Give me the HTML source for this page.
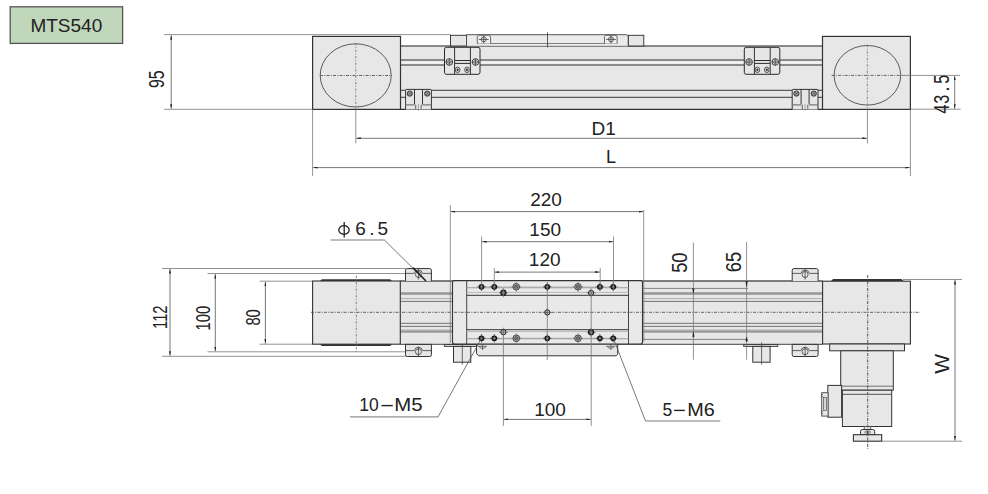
<!DOCTYPE html>
<html><head><meta charset="utf-8">
<style>
html,body{margin:0;padding:0;background:#fff;width:988px;height:494px;overflow:hidden}
svg{display:block}
text{font-family:"Liberation Sans",sans-serif;fill:#222}
.f{fill:#e7e7e7}
.k{stroke:#333;fill:none}
.dim{stroke:#555;stroke-width:0.8;fill:none}
.ext{stroke:#777;stroke-width:0.8;fill:none}
.cl{stroke:#555;stroke-width:0.9;stroke-dasharray:3 1.25 1 1.25;fill:none}
.clv{stroke:#777;stroke-width:0.9;stroke-dasharray:2.5 1.5 1 1.5;fill:none}
</style></head>
<body>
<svg width="988" height="494" viewBox="0 0 988 494">
<defs>
  <marker id="ar" viewBox="0 0 4.5 2" refX="4.5" refY="1" markerWidth="4.5" markerHeight="2" markerUnits="userSpaceOnUse" orient="auto-start-reverse">
    <path d="M0,0 L4.5,1 L0,2 Z" fill="#222"/>
  </marker>
  <g id="scr">
    <circle r="3.3" fill="#e2e2e2" stroke="#333" stroke-width="0.9"/>
    <circle r="1.9" fill="none" stroke="#777" stroke-width="0.6"/>
    <path d="M-3.6,0H3.6M0,-3.6V3.6" stroke="#333" stroke-width="0.7"/>
  </g>
  <g id="scrs">
    <ellipse rx="2.3" ry="2.8" fill="#dcdcdc" stroke="#333" stroke-width="0.8"/>
    <ellipse rx="1" ry="1.4" fill="#333"/>
  </g>
</defs>

<!-- label box -->
<rect x="10.2" y="6.8" width="112.4" height="36.6" fill="#c0d7bc" stroke="#555" stroke-width="1.3"/>
<text x="66.3" y="32.4" font-size="19" text-anchor="middle">MTS540</text>

<!-- ============ TOP VIEW ============ -->
<!-- 95 dim -->
<path class="ext" d="M164,34.6H450.5M164,109.3H313"/>
<path class="dim" d="M171.2,35.2V108.7" marker-start="url(#ar)" marker-end="url(#ar)"/>
<text transform="translate(164.4,79.2) rotate(-90) scale(0.72,1)" font-size="22" text-anchor="middle">95</text>

<!-- body -->
<rect x="400.5" y="46" width="422" height="63.4" class="f"/>
<path d="M400.5,46H822.5" stroke="#222" stroke-width="1.1"/>
<path d="M400.5,60H822.5M400.5,65H822.5" stroke="#6e6e6e" stroke-width="1.5"/>
<path d="M400.5,62.4H822.5" stroke="#f2f2f2" stroke-width="2"/>
<path d="M400.5,90.3H822.5M400.5,97.3H822.5" stroke="#3a3a3a" stroke-width="1"/>
<path d="M312.6,109.4H910.4" stroke="#333" stroke-width="1.1"/>
<path class="ext" d="M910.4,109.2H960.7"/>

<!-- carriage top -->
<rect x="450.5" y="35.3" width="16" height="10.7" class="f" stroke="#333" stroke-width="0.95"/>
<rect x="628.5" y="35.3" width="15.3" height="10.7" class="f" stroke="#333" stroke-width="0.95"/>
<path d="M466.5,45.8V34.7H626.2Q628.2,34.7 628.2,36.7V45.8" fill="#ebebeb" stroke="#444" stroke-width="0.9"/>
<path d="M477,43.5H617.1" stroke="#666" stroke-width="0.8"/>
<path d="M477.3,43.5V36.4L478.4,35.3H488.6Q490.6,35.3 490.6,37.3V43.5" fill="#f0f0f0" stroke="#444" stroke-width="0.8"/>
<path d="M604.5,43.5V36.4L605.6,35.3H615.1Q617.1,35.3 617.1,37.3V43.5" fill="#f0f0f0" stroke="#444" stroke-width="0.8"/>
<g stroke="#333" stroke-width="0.75" fill="none">
  <circle cx="483.7" cy="39.4" r="2.5"/><path d="M478.8,39.4H488.6M483.7,35.7V43.4"/>
  <circle cx="611" cy="39.4" r="2.5"/><path d="M606.1,39.4H615.9M611,35.7V43.4"/>
</g>
<path d="M547.5,32.3V47.4" stroke="#333" stroke-width="0.8"/>

<!-- end blocks -->
<rect x="312.6" y="36.4" width="87.9" height="73" class="f" stroke="#333" stroke-width="1.2"/>
<rect x="822.5" y="36.4" width="87.9" height="73" class="f" stroke="#333" stroke-width="1.2"/>
<ellipse cx="355.7" cy="75.4" rx="35.5" ry="31.6" fill="none" stroke="#4a4a4a" stroke-width="0.9"/>
<ellipse cx="867.4" cy="75.3" rx="33.3" ry="29.8" fill="none" stroke="#4a4a4a" stroke-width="0.9"/>
<path class="cl" d="M320,75.5H392"/>
<path class="clv" d="M355.8,43V109"/>
<path class="cl" d="M831.6,75.4H900"/>
<path class="ext" d="M900,75.4H960"/>
<path class="clv" d="M867.4,44.7V109"/>

<!-- upper brackets -->
<g id="ubr">
  <rect x="444.5" y="47.3" width="35.5" height="27" rx="2" fill="#e6e6e6" stroke="#2a2a2a" stroke-width="1"/>
  <path d="M454.6,47.3V74.3M470.4,47.3V74.3" stroke="#2a2a2a" stroke-width="0.95"/>
  <path d="M454.6,60.5H470.4M454.6,63.4H470.4" stroke="#2a2a2a" stroke-width="1"/>
  <use href="#scr" x="449.3" y="62"/>
  <use href="#scr" x="475.5" y="62"/>
  <use href="#scrs" x="457.6" y="69.8"/>
  <use href="#scrs" x="467" y="69.8"/>
</g>
<use href="#ubr" x="299.8" y="0"/>

<!-- lower brackets -->
<g id="lbr">
  <path d="M405.6,109.4V90.4Q405.6,89.4 406.6,89.4H430.4Q431.4,89.4 431.4,90.4V109.4" fill="#e6e6e6" stroke="#2a2a2a" stroke-width="0.95"/>
  <path d="M414.5,89.4V104.4M422.5,89.4V104.4" stroke="#2a2a2a" stroke-width="0.95"/>
  <path d="M405.6,104.8H414.5M422.5,104.8H431.4" stroke="#7a7a7a" stroke-width="1.3"/>
  <path d="M415.7,104.7V109.3M421.2,104.7V109.3" stroke="#444" stroke-width="0.8"/>
  <path d="M418.4,104V110.8" stroke="#777" stroke-width="0.6"/>
  <g id="scr2"><circle cx="409.8" cy="93.6" r="2.7" fill="#6a6a6a" stroke="#2a2a2a" stroke-width="0.7"/>
  <path d="M408,93.6H411.6M409.8,91.8V95.4" stroke="#d0d0d0" stroke-width="0.7"/><circle cx="409.8" cy="93.6" r="0.7" fill="#333"/></g>
  <use href="#scr2" x="17.4" y="0"/>
</g>
<use href="#lbr" x="386.6" y="0"/>

<!-- D1 / L dims -->
<path class="ext" d="M312.6,109.4V176M355.8,109.4V143.4M867.4,109.4V143.4M910.4,109.4V176"/>
<path class="dim" d="M356.3,138.3H866.9" marker-start="url(#ar)" marker-end="url(#ar)"/>
<path class="dim" d="M313.1,167.6H909.9" marker-start="url(#ar)" marker-end="url(#ar)"/>
<text x="603.7" y="134.8" font-size="19" text-anchor="middle">D1</text>
<text x="611" y="162.8" font-size="18" text-anchor="middle">L</text>

<!-- 43.5 dim -->
<path class="dim" d="M954.7,75.9V108.8" marker-start="url(#ar)" marker-end="url(#ar)"/>
<g font-size="21.8"><text transform="translate(949.3,113.6) rotate(-90) scale(0.74,1)">4</text><text transform="translate(949.3,103.8) rotate(-90) scale(0.74,1)">3</text><text transform="translate(949.3,91.8) rotate(-90) scale(0.9,1)">.</text><text transform="translate(949.3,83.8) rotate(-90) scale(0.74,1)">5</text></g>

<!-- ============ BOTTOM VIEW ============ -->
<!-- left dims -->
<path class="ext" d="M162,268.5H405.6M207.5,273.5H405.6M259.6,281.2H312.6M259.6,344.2H312.6M207.5,351.8H405.6M162,356.3H405.6"/>
<path class="dim" d="M170,269.1V355.7" marker-start="url(#ar)" marker-end="url(#ar)"/>
<path class="dim" d="M215.3,274.1V351.2" marker-start="url(#ar)" marker-end="url(#ar)"/>
<path class="dim" d="M265.4,281.8V343.6" marker-start="url(#ar)" marker-end="url(#ar)"/>
<text transform="translate(167.1,317.2) rotate(-90) scale(0.72,1)" font-size="20.5" text-anchor="middle">112</text>
<text transform="translate(210.1,318.2) rotate(-90) scale(0.72,1)" font-size="20.5" text-anchor="middle">100</text>
<text transform="translate(259.6,317.4) rotate(-90) scale(0.72,1)" font-size="20.5" text-anchor="middle">80</text>

<!-- rails -->
<rect x="400.3" y="281" width="422.3" height="63.3" class="f"/>
<g id="rl">
<path d="M400.3,293.45H822.6" stroke="#969696" stroke-width="2.6"/>
<path d="M400.3,330.2H822.6" stroke="#b0b0b0" stroke-width="1.4"/>
<path d="M400.3,331.9H822.6" stroke="#7a7a7a" stroke-width="1.4"/>
<path d="M400.3,298.6H822.6" stroke="#a8a8a8" stroke-width="0.9"/>
<path d="M400.3,301.4H822.6M400.3,323.3H822.6M400.3,326.4H822.6" stroke="#666" stroke-width="0.9"/>
</g>
<path d="M643,288.4H748M643,339.4H748" stroke="#777" stroke-width="0.9"/>
<path d="M400.3,281H822.6" stroke="#555" stroke-width="1.6"/>
<path d="M400.3,344.3H822.6" stroke="#444" stroke-width="1"/>

<!-- left motor block -->
<path d="M319.5,281.5L321.8,279.2H390.2L392.5,281.5ZM319.5,343.8L321.8,346.1H390.2L392.5,343.8Z" fill="#333"/>
<rect x="312.6" y="281" width="87.7" height="63.2" class="f" stroke="#333" stroke-width="1.1"/>

<!-- right motor block -->
<path d="M830.8,281.3L833.1,279H901.5L903.8,281.3Z" fill="#333"/>
<rect x="822.6" y="281.2" width="87.8" height="62.8" class="f" stroke="#333" stroke-width="1.1"/>
<rect x="829.7" y="344" width="74.8" height="6.8" class="f" stroke="#333" stroke-width="1"/>
<rect x="840.7" y="350.8" width="52.6" height="39.4" class="f" stroke="#333" stroke-width="1"/>
<path d="M840.7,386.2H893.3" stroke="#555" stroke-width="0.8"/>
<rect x="842.4" y="390.2" width="49.3" height="36.3" class="f" stroke="#333" stroke-width="1"/>
<path d="M842.4,394.3H891.7" stroke="#444" stroke-width="0.9"/>
<rect x="827.8" y="385.4" width="13.8" height="31.8" class="f" stroke="#333" stroke-width="1"/>
<rect x="821.7" y="392.7" width="6.4" height="23.4" class="f" stroke="#444" stroke-width="0.9"/>
<rect x="823.4" y="397.5" width="3" height="13" fill="#d8d8d8" stroke="#555" stroke-width="0.7"/>
<path d="M821.2,394.5H823M821.2,396.5H823M821.2,411.5H823M821.2,413.5H823" stroke="#555" stroke-width="0.7"/>
<rect x="864.2" y="426.5" width="6.5" height="3" class="f" stroke="#444" stroke-width="0.8"/>
<path d="M860.5,434.7V431.5Q860.5,429.5 862.5,429.5H872.7Q874.7,429.5 874.7,431.5V434.7Z" class="f" stroke="#333" stroke-width="1"/>
<rect x="853.4" y="434.7" width="28.3" height="6.5" class="f" stroke="#333" stroke-width="1.1"/>
<ellipse cx="867.6" cy="432.1" rx="3" ry="1.3" fill="none" stroke="#555" stroke-width="0.7"/>
<circle cx="867.6" cy="432.1" r="1" fill="#333"/>

<!-- foot brackets -->
<g id="ft">
<path d="M405.5,281V270.3Q405.5,268.6 407.2,268.6H429.7Q431.4,268.6 431.4,270.3V281" fill="#e6e6e6" stroke="#333" stroke-width="1"/>
<path d="M405.5,344.4V354.8Q405.5,356.5 407.2,356.5H429.7Q431.4,356.5 431.4,354.8V344.4Z" fill="#e6e6e6" stroke="#333" stroke-width="1"/>
<g stroke="#333" stroke-width="0.75" fill="none">
<path d="M405.5,273.4H414.2A4.3,4.3 0 0 1 422.6,273.4H431.4"/>
<circle cx="418.4" cy="274.5" r="3"/>
<path d="M418.4,269.5V279.5"/>
<path d="M405.5,350.6H414.2A4.3,4.3 0 0 1 422.6,350.6H431.4"/>
<circle cx="418.4" cy="351.7" r="3"/>
<path d="M418.4,346.8V356.8"/>
</g>
</g>
<use href="#ft" x="386.7" y="0"/>

<!-- small feet under rail -->
<g id="sf">
<rect x="444.4" y="344.6" width="34.1" height="1.8" class="f" stroke="#333" stroke-width="0.9"/>
<rect x="453.5" y="346.4" width="17.3" height="15.8" class="f" stroke="#333" stroke-width="1"/>
<path d="M462.3,342.5V364.7" stroke="#444" stroke-width="0.8"/>
</g>
<use href="#sf" x="299.3" y="0"/>

<!-- carriage bottom plate -->
<path d="M476.5,344V353.5L478.5,355.8H616.2L617.7,354.3V344Z" class="f" stroke="#333" stroke-width="1"/>
<g stroke="#444" stroke-width="0.7" fill="none"><path d="M478,346.3H487M606.3,346.3H615.3M482.5,344V350M610.8,344V350"/><path d="M479.3,346.3A3.2,2 0 0 0 485.7,346.3M607.6,346.3A3.2,2 0 0 0 614,346.3"/></g>
<!-- carriage -->
<path d="M454.5,280.6H640.5Q642.5,280.6 642.5,282.6V342Q642.5,344 640.5,344H454.5Q452.5,344 452.5,342V282.6Q452.5,280.6 454.5,280.6Z" fill="#e9e9e9" stroke="#333" stroke-width="1.1"/>
<path d="M466.7,280.5V344M628.5,280.5V344" stroke="#333" stroke-width="0.9"/>
<path d="M466.7,295.3H628.5M466.7,329.7H628.5" stroke="#333" stroke-width="1"/>
<path d="M643.8,282V341.5" stroke="#888" stroke-width="1"/>
<path d="M481.5,286.8H613.3M481.5,338.2H613.3" stroke="#aaa" stroke-width="0.6"/>

<!-- holes -->
<defs>
<g id="h1"><path d="M-4.3,0H4.3M0,-4.3V4.3" stroke="#444" stroke-width="0.7"/><circle r="2.3" fill="#444" stroke="#111" stroke-width="1.1"/><circle r="0.8" fill="#bbb"/></g>
<g id="h2"><path d="M-4.5,0H4.5M0,-4.5V4.5" stroke="#555" stroke-width="0.6"/><circle r="2.6" fill="#ccc" stroke="#1e1e1e" stroke-width="1"/><path d="M-2.6,0H2.6M0,-2.6V2.6" stroke="#444" stroke-width="0.6"/></g>
<g id="h2d"><path d="M-4.5,0H4.5M0,-4.5V4.5" stroke="#555" stroke-width="0.6"/><circle r="2.6" fill="#555" stroke="#1e1e1e" stroke-width="1.1"/><circle r="0.9" fill="#aaa"/></g>
<g id="h3"><path d="M-5,0H5M0,-5V5" stroke="#666" stroke-width="0.6"/><circle r="3.3" fill="#bbb" stroke="#333" stroke-width="0.9"/><circle r="1.8" fill="#777" stroke="#333" stroke-width="0.6"/></g>
</defs>
<path d="M466.7,287.7H628.5M466.7,338.8H628.5" stroke="#9a9a9a" stroke-width="1.1"/>
<path d="M466.7,292.4H628.5M466.7,331.6H628.5" stroke="#b8b8b8" stroke-width="1"/>
<use href="#h1" x="481.5" y="286.8"/><use href="#h1" x="494.3" y="286.8"/><use href="#h1" x="547.3" y="286.8"/>
<use href="#h1" x="599.9" y="286.8"/><use href="#h1" x="613.2" y="286.8"/>
<use href="#h1" x="481.5" y="338.3"/><use href="#h1" x="494.3" y="338.3"/><use href="#h1" x="547.3" y="338.3"/>
<use href="#h1" x="599.9" y="338.3"/><use href="#h1" x="613.2" y="338.3"/>
<use href="#h2d" x="503.4" y="292.7"/><use href="#h2" x="591.1" y="292.9"/>
<use href="#h2" x="503.4" y="332.2"/><use href="#h2d" x="591.1" y="332.3"/><use href="#h2" x="547.3" y="312.4"/>
<use href="#h3" x="516.3" y="286.8"/><use href="#h3" x="578" y="286.8"/>
<use href="#h3" x="516.3" y="338.3"/><use href="#h3" x="578" y="338.3"/>

<!-- center lines -->
<path class="cl" d="M311,312.3H920"/>
<path class="clv" d="M356.3,275.6V352"/>
<path class="cl" d="M867.7,275V449" style="stroke:#444"/>

<!-- top dims -->
<path class="ext" d="M450.3,205.2V343M643.7,210V281M481.6,236.4V289M613.5,236.4V289M494.3,267.9V289M600.2,267.9V289M547.3,282V360M503.4,289V296M503.4,332V425.9M591.2,289V425.9"/>
<path class="dim" d="M450.8,211.6H643.2" marker-start="url(#ar)" marker-end="url(#ar)"/>
<path class="dim" d="M482.1,241.7H613" marker-start="url(#ar)" marker-end="url(#ar)"/>
<path class="dim" d="M494.8,272.1H599.7" marker-start="url(#ar)" marker-end="url(#ar)"/>
<path class="dim" d="M503.9,419.4H590.8" marker-start="url(#ar)" marker-end="url(#ar)"/>
<text x="546" y="205.8" font-size="19" text-anchor="middle">220</text>
<text x="545.2" y="236" font-size="19" text-anchor="middle">150</text>
<text x="544.7" y="266.4" font-size="19" text-anchor="middle">120</text>
<text x="550" y="415.7" font-size="19" text-anchor="middle">100</text>

<!-- 50 / 65 -->
<path class="ext" d="M693.4,242.6V359.7M746.6,242V359.7"/>
<path d="M692.7,288.7L693.4,292.7L694.1,288.7ZM692.7,336.7L693.4,332.4L694.1,336.7ZM745.9,281.5L746.6,286.2L747.3,281.5ZM745.9,341.2L746.6,337.3L747.3,341.2Z" fill="#222" stroke="#222" stroke-width="0.6"/>
<text transform="translate(687.1,262.7) rotate(-90) scale(0.85,1)" font-size="21.5" text-anchor="middle">50</text>
<text transform="translate(740.8,262.05) rotate(-90) scale(0.85,1)" font-size="21.5" text-anchor="middle">65</text>

<!-- W dim -->
<path class="ext" d="M903,279.5H962M881.7,441.2H962"/>
<path class="dim" d="M955,280.1V440.6" marker-start="url(#ar)" marker-end="url(#ar)"/>
<text transform="translate(949.3,363.8) rotate(-90)" font-size="21" text-anchor="middle">W</text>

<!-- phi 6.5 -->
<path class="dim" d="M330.6,240H384.4L425.8,281"/>
<path d="M412.8,267.6L426,281" stroke="#222" stroke-width="1.5"/>
<g stroke="#222" stroke-width="1.3" fill="none"><ellipse cx="344" cy="230" rx="5.2" ry="4.4"/><path d="M344.2,222V237.6"/></g>
<text y="234.6" font-size="19"><tspan x="355.2">6</tspan><tspan x="369.3">.</tspan><tspan x="377.4">5</tspan></text>

<!-- 10-M5 -->
<path class="dim" d="M350,416.9H438L481.5,338.2"/>
<text x="359.2" y="411.4" font-size="17.5">10</text><path d="M381.5,405.6H392.8" stroke="#222" stroke-width="1.4"/><text x="394.2" y="411.4" font-size="17.5" textLength="28.3" lengthAdjust="spacingAndGlyphs">M5</text>

<!-- 5-M6 -->
<path class="dim" d="M613.3,338.2L645.5,421H720.3"/>
<text x="662.6" y="416.2" font-size="17.5">5</text><path d="M674.1,410.4H684.8" stroke="#222" stroke-width="1.4"/><text x="687.3" y="416.2" font-size="17.5" textLength="27.6" lengthAdjust="spacingAndGlyphs">M6</text>

</svg>
</body></html>
